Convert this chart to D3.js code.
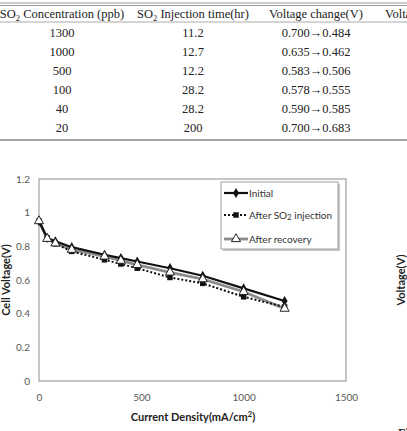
<!DOCTYPE html>
<html>
<head>
<meta charset="utf-8">
<script src="https://cdn.jsdelivr.net/npm/d3@7"></script>
<style>
  body { margin: 0; background: #fff; }
  svg { display: block; }
</style>
</head>
<body>
<svg id="fig" width="407" height="431"></svg>
<script>
// table data
var concentrations = ["1300", "1000", "500", "100", "40", "20"];
var injectionTimes = ["11.2", "12.7", "12.2", "28.2", "28.2", "200"];
var voltageChanges = ["0.700\u21920.484", "0.635\u21920.462", "0.583\u21920.506",
                      "0.578\u21920.555", "0.590\u21920.585", "0.700\u21920.683"];

// chart data
var currentDensity = [0, 40, 80, 160, 320, 400, 480, 640, 800, 1000, 1200];
var initialV  = [0.95, 0.85, 0.83, 0.795, 0.75, 0.73, 0.71, 0.67, 0.625, 0.55, 0.475];
var afterSO2V = [0.95, 0.85, 0.815, 0.77, 0.72, 0.695, 0.67, 0.615, 0.58, 0.50, 0.44];
var recoveryV = [0.95, 0.845, 0.818, 0.78, 0.74, 0.715, 0.69, 0.645, 0.605, 0.53, 0.43];
var xTicks = [0, 500, 1000, 1500];
var yTicks = [0, 0.2, 0.4, 0.6, 0.8, 1, 1.2];

var svg = d3.select("#fig");

// ---- table ----
var serif = "'Liberation Serif', 'Times New Roman', serif";
var tbl = svg.append("g").attr("font-family", serif).attr("font-size", 12.5).attr("fill", "#222");

tbl.append("line").attr("x1", 0).attr("x2", 407).attr("y1", 3).attr("y2", 3).attr("stroke", "#999").attr("stroke-width", 1);
tbl.append("line").attr("x1", 0).attr("x2", 407).attr("y1", 5.5).attr("y2", 5.5).attr("stroke", "#999").attr("stroke-width", 1);
tbl.append("line").attr("x1", 0).attr("x2", 407).attr("y1", 22).attr("y2", 22).attr("stroke", "#aaa").attr("stroke-width", 1);
tbl.append("line").attr("x1", 0).attr("x2", 407).attr("y1", 140).attr("y2", 140).attr("stroke", "#888").attr("stroke-width", 1.5);

var colX = [62, 193, 316];

var h1 = tbl.append("text").attr("x", colX[0]).attr("y", 18).attr("text-anchor", "middle");
h1.append("tspan").text("SO");
h1.append("tspan").attr("font-size", 8.5).attr("dy", 3).text("2");
h1.append("tspan").attr("dy", -3).text(" Concentration (ppb)");

var h2 = tbl.append("text").attr("x", colX[1]).attr("y", 18).attr("text-anchor", "middle");
h2.append("tspan").text("SO");
h2.append("tspan").attr("font-size", 8.5).attr("dy", 3).text("2");
h2.append("tspan").attr("dy", -3).text(" Injection time(hr)");

tbl.append("text").attr("x", colX[2]).attr("y", 18).attr("text-anchor", "middle").text("Voltage change(V)");
tbl.append("text").attr("x", 385).attr("y", 18).text("Voltage");

var rowY = d3.scalePoint().domain(d3.range(concentrations.length)).range([37, 132]);
[concentrations, injectionTimes, voltageChanges].forEach(function (col, ci) {
  tbl.selectAll(null).data(col).enter().append("text")
    .attr("x", colX[ci])
    .attr("y", function (d, i) { return rowY(i); })
    .attr("text-anchor", "middle")
    .text(function (d) { return d; });
});

// ---- chart ----
var sans = "Lato, 'Open Sans', 'DejaVu Sans', sans-serif";
var x = d3.scaleLinear().domain([0, 1500]).range([39, 346]);
var y = d3.scaleLinear().domain([0, 1.2]).range([381, 179]);

var chart = svg.append("g").attr("font-family", sans);

chart.append("rect")
  .attr("x", x(0)).attr("y", y(1.2))
  .attr("width", x(1500) - x(0)).attr("height", y(0) - y(1.2))
  .attr("fill", "none").attr("stroke", "#a0a0a0").attr("stroke-width", 1.2);

var yAxis = chart.append("g").attr("transform", "translate(" + x(0) + ",0)")
  .call(d3.axisLeft(y).tickValues(yTicks).tickSize(0).tickPadding(9).tickFormat(d3.format("")));
yAxis.select(".domain").remove();
yAxis.selectAll("text").attr("font-family", sans).attr("font-size", 10).attr("fill", "#595959");

var xAxis = chart.append("g").attr("transform", "translate(0," + y(0) + ")")
  .call(d3.axisBottom(x).tickValues(xTicks).tickSize(0).tickPadding(13).tickFormat(d3.format("d")));
xAxis.select(".domain").remove();
xAxis.selectAll("text").attr("font-family", sans).attr("font-size", 10).attr("fill", "#595959");

// axis titles
var xt = chart.append("text").attr("x", 193).attr("y", 421).attr("text-anchor", "middle")
  .attr("font-size", 11).attr("font-weight", "bold").attr("fill", "#222");
xt.append("tspan").text("Current Density(mA/cm");
xt.append("tspan").attr("font-size", 7.5).attr("dy", -4).text("2");
xt.append("tspan").attr("dy", 4).text(")");

chart.append("text").attr("transform", "translate(10,280) rotate(-90)").attr("text-anchor", "middle")
  .attr("font-size", 11).attr("font-weight", "bold").attr("fill", "#222").text("Cell Voltage(V)");

// lines
function series(vals) { return currentDensity.map(function (c, i) { return [c, vals[i]]; }); }
var line = d3.line().x(function (d) { return x(d[0]); }).y(function (d) { return y(d[1]); });

chart.append("path").attr("d", line(series(recoveryV))).attr("fill", "none")
  .attr("stroke", "#8c8c8c").attr("stroke-width", 2.8);
chart.append("path").attr("d", line(series(afterSO2V))).attr("fill", "none")
  .attr("stroke", "#111").attr("stroke-width", 2).attr("stroke-dasharray", "2,2");
chart.append("path").attr("d", line(series(initialV))).attr("fill", "none")
  .attr("stroke", "#111").attr("stroke-width", 2.2);

var sq = d3.symbol().type(d3.symbolSquare).size(30);
var dia = d3.symbol().type(d3.symbolDiamond).size(30);
var tri = d3.symbol().type(d3.symbolTriangle).size(36);

chart.selectAll(null).data(series(afterSO2V)).enter().append("path")
  .attr("transform", function (d) { return "translate(" + x(d[0]) + "," + y(d[1]) + ")"; })
  .attr("d", sq).attr("fill", "#111");
chart.selectAll(null).data(series(initialV)).enter().append("path")
  .attr("transform", function (d) { return "translate(" + x(d[0]) + "," + y(d[1]) + ")"; })
  .attr("d", dia).attr("fill", "#111");
chart.selectAll(null).data(series(recoveryV)).enter().append("path")
  .attr("transform", function (d) { return "translate(" + x(d[0]) + "," + y(d[1]) + ")"; })
  .attr("d", tri).attr("fill", "#fff").attr("stroke", "#222").attr("stroke-width", 1);

// legend
var lg = chart.append("g");
lg.append("rect").attr("x", 223).attr("y", 184).attr("width", 117).attr("height", 67).attr("fill", "#c8c8c8");
lg.append("rect").attr("x", 221).attr("y", 182).attr("width", 117).attr("height", 67)
  .attr("fill", "#fff").attr("stroke", "#a0a0a0").attr("stroke-width", 1);

var entries = [
  { y: 193, stroke: "#111", w: 2.2, dash: null, sym: dia, fill: "#111", sStroke: "none" },
  { y: 215, stroke: "#111", w: 2, dash: "2,2", sym: sq, fill: "#111", sStroke: "none" },
  { y: 239, stroke: "#8c8c8c", w: 2.8, dash: null, sym: tri, fill: "#fff", sStroke: "#222" }
];
entries.forEach(function (e) {
  lg.append("line").attr("x1", 224).attr("x2", 248).attr("y1", e.y).attr("y2", e.y)
    .attr("stroke", e.stroke).attr("stroke-width", e.w).attr("stroke-dasharray", e.dash);
  lg.append("path").attr("transform", "translate(236," + e.y + ")").attr("d", e.sym)
    .attr("fill", e.fill).attr("stroke", e.sStroke);
});
lg.append("text").attr("x", 249).attr("y", 197).attr("font-size", 10).attr("fill", "#333").text("Initial");
var l2 = lg.append("text").attr("x", 249).attr("y", 219).attr("font-size", 10).attr("fill", "#333");
l2.append("tspan").text("After SO");
l2.append("tspan").attr("font-size", 8).attr("dy", 1).text("2");
l2.append("tspan").attr("dy", -1).text(" injection");
lg.append("text").attr("x", 249).attr("y", 243).attr("font-size", 10).attr("fill", "#333").text("After recovery");

// cut-off neighbouring panel
chart.append("text").attr("transform", "translate(405,280) rotate(-90)").attr("text-anchor", "middle")
  .attr("font-size", 11).attr("font-weight", "bold").attr("fill", "#222").text("Voltage(V)");
svg.append("text").attr("x", 398).attr("y", 437).attr("font-family", serif).attr("font-size", 12)
  .attr("font-weight", "bold").attr("fill", "#222").text("Fi");
</script>
</body>
</html>
